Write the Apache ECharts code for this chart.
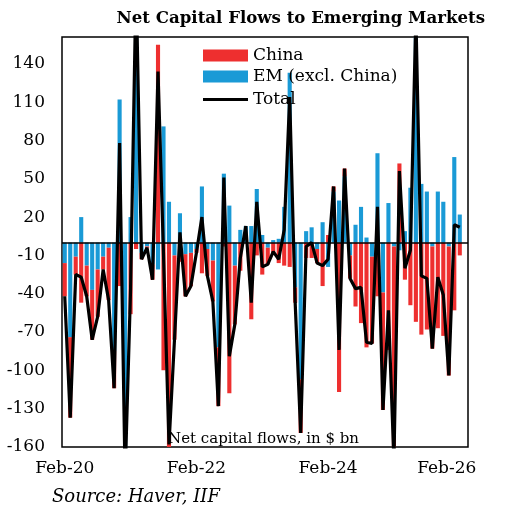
<!DOCTYPE html>
<html>
<head>
<meta charset="utf-8">
<script src="https://cdn.jsdelivr.net/npm/echarts@6/dist/echarts.min.js"></script>
<style>
html,body{margin:0;padding:0;background:#fff;}
#chart{width:505px;height:509px;}
</style>
</head>
<body>
<div id="chart"></div>
<script>
// Monthly categories Feb-20 .. Mar-26 (74 slots, last one empty)
var categories = [];
(function(){
  var m = ['Jan','Feb','Mar','Apr','May','Jun','Jul','Aug','Sep','Oct','Nov','Dec'];
  for (var k = 0; k < 74; k++) {
    var mi = (1 + k) % 12, yr = 20 + Math.floor((1 + k) / 12);
    categories.push(m[mi] + '-' + yr);
  }
})();

var emExChina = [-16,-74,-11,20,-18,-37,-21,-11,-4,-85,112,-180,20,210,-8,-3,-17,-21,91,32,
  -10,23,-9,-8,-5,44,-5,-14,-82,54,29,-18,10,13,13,42,6,-4,2,3,
  28,133,-35,-107,9,12,-5,16,-19,40,33,52,-10,14,28,4,-11,70,-39,31,
  -3,-6,9,43,240,46,40,-3,40,32,-3,67,22];
var china = [-26,-63,-14,-47,-24,-39,-37,-10,-41,-29,-34,-4,-56,-5,-5,-1,-12,155,-100,-190,
  -66,-15,-33,-26,-3,-24,-21,-32,-46,-3,-118,-46,-22,0,-60,-10,-25,-13,-9,-16,
  -18,-19,-12,-42,-12,-12,-11,-34,6,4,-117,6,-18,-50,-63,-82,-68,-42,-92,-84,
  -168,62,-29,-49,-62,-72,-68,-80,-67,-73,-101,-53,-10];
var total = [-42,-137,-25,-27,-42,-76,-58,-21,-45,-114,78,-184,-36,205,-13,-4,-29,134,-9,-158,
  -76,8,-42,-34,-8,20,-26,-46,-128,51,-89,-64,-12,13,-47,32,-19,-17,-7,-13,
  10,114,-47,-149,-3,0,-16,-18,-13,44,-84,58,-28,-36,-35,-78,-79,28,-131,-53,
  -171,56,-20,-6,178,-26,-28,-83,-27,-41,-104,14,12];

var xTickIndex = [0, 24, 48, 72];
var xTickLabels = ['Feb-20', 'Feb-22', 'Feb-24', 'Feb-26'];

var FONT = 'DejaVu Serif';
var chart = echarts.init(document.getElementById('chart'));
chart.setOption({
  animation: false,
  backgroundColor: '#fff',
  title: {
    text: 'Net Capital Flows to Emerging Markets',
    right: 15, top: 5,
    textStyle: {fontFamily: FONT, fontWeight: 'bold', fontSize: 16.6, color: '#000'}
  },
  legend: [{
    orient: 'vertical',
    left: 198, top: 42,
    itemWidth: 45, itemHeight: 12, itemGap: 4,
    data: [
      {name: 'China', icon: 'rect'},
      {name: 'EM (excl. China)', icon: 'rect'}
    ],
    textStyle: {fontFamily: FONT, fontSize: 17, color: '#000'}
  }, {
    orient: 'vertical',
    left: 198, top: 86,
    itemWidth: 45, itemHeight: 3,
    data: [{name: 'Total', icon: 'rect', itemStyle: {color: '#000'}}],
    textStyle: {fontFamily: FONT, fontSize: 17, color: '#000'}
  }],
  grid: {
    left: 62, right: 37, top: 37, bottom: 62,
    show: true, borderColor: '#000', borderWidth: 1.5
  },
  xAxis: {
    type: 'category',
    data: categories,
    boundaryGap: true,
    axisLine: {show: false},
    axisTick: {show: false},
    axisLabel: {
      interval: function (idx) { return xTickIndex.indexOf(idx) >= 0; },
      formatter: function (v, idx) {
        var p = xTickIndex.indexOf(idx);
        if (p < 0) return '';
        return p === xTickIndex.length - 1 ? '{r|' + xTickLabels[p] + '}' : xTickLabels[p];
      },
      rich: {r: {padding: [0, 26, 0, 0], fontFamily: FONT, fontSize: 17, color: '#000'}},
      fontFamily: FONT, fontSize: 17, color: '#000', margin: 13
    }
  },
  yAxis: {
    type: 'value',
    min: -160, max: 161, interval: 30,
    splitLine: {show: false},
    axisLine: {show: false},
    axisTick: {show: false},
    axisLabel: {showMaxLabel: false, fontFamily: FONT, fontSize: 17, color: '#000', margin: 17}
  },
  graphic: [
    {type: 'text', left: 168, top: 432, z: 100,
     style: {text: 'Net capital flows, in $ bn', fontFamily: FONT, fontSize: 15, fill: '#000'}},
    {type: 'text', left: 52, top: 488,
     style: {text: 'Source: Haver, IIF', fontFamily: FONT, fontStyle: 'italic', fontSize: 18, fill: '#000'}}
  ],
  series: [
    {name: 'EM (excl. China)', type: 'bar', stack: 'flows', data: emExChina,
     barCategoryGap: '25%', itemStyle: {color: '#1a9ad6'}},
    {name: 'China', type: 'bar', stack: 'flows', data: china,
     itemStyle: {color: '#ee2f2f'}},
    {name: 'Total', type: 'line', data: total, symbol: 'none', showSymbol: false,
     lineStyle: {color: '#000', width: 3.2}, itemStyle: {color: '#000'},
     markLine: {silent: true, symbol: 'none', label: {show: false},
       lineStyle: {color: '#000', width: 1.5, type: 'solid'},
       data: [{yAxis: 0}]}}
  ]
});
</script>
</body>
</html>
